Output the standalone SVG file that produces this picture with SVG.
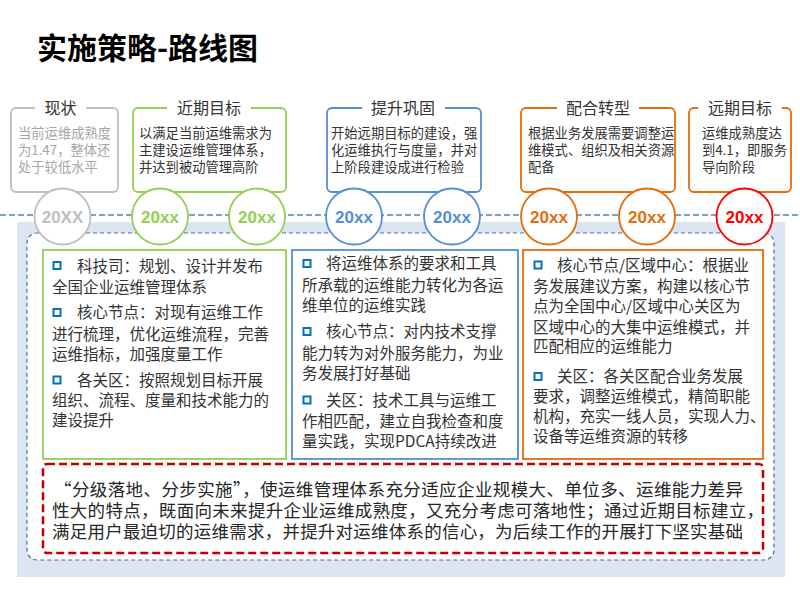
<svg xmlns="http://www.w3.org/2000/svg" width="800" height="600" viewBox="0 0 800 600">
<style>
text{font-family:"Noto Sans CJK SC","Noto Sans",sans-serif;}
.title{font-size:30px;font-weight:700;fill:#000;}
.bt{font-size:16px;fill:#333;text-anchor:middle;}
.tt{font-size:13.3px;fill:#333;}
.tg{fill:#a6a6a6;}
.box{fill:#fff;stroke-width:1.8;}
.gap{fill:#fff;stroke:none;}
.circ{fill:#fff;stroke-width:1.8;}
.yr{font-family:"Liberation Sans",Arial,sans-serif;font-size:17px;font-weight:700;text-anchor:middle;}
.body{font-size:15.5px;fill:#333;}
.bul{fill:#fff;stroke:#0070c0;stroke-width:2;}
.red{font-size:17.5px;fill:#262626;}
</style>
<rect width="800" height="600" fill="#fff"/>
<text class="title" x="37" y="59">实施策略-路线图</text>

<!-- background panel -->
<rect x="17" y="222" width="768" height="355" fill="#dce6f2"/>
<rect x="27" y="233" width="747" height="327" rx="10" fill="#fff" stroke="#4f6f9f" stroke-width="1.2" stroke-dasharray="4,3"/>

<g id="connectors">
<line x1="0" y1="215" x2="800" y2="215" stroke="#4f81bd" stroke-width="1.5" stroke-dasharray="6,3"/>
</g>

<!-- top boxes -->
<g id="box-now">
<rect class="box" x="11" y="108" width="107" height="84" rx="5" stroke="#bfbfbf"/>
<rect class="gap" x="35" y="100" width="51" height="16"/>
<text class="bt" x="60.5" y="114">现状</text>
<text class="tt tg"><tspan x="18" y="138">当前运维成熟度</tspan><tspan x="18" y="155">为1.47，整体还</tspan><tspan x="18" y="172">处于较低水平</tspan></text>
</g>
<g id="box-near">
<rect class="box" x="133" y="108" width="153" height="84" rx="5" stroke="#92d050"/>
<rect class="gap" x="167" y="100" width="84" height="16"/>
<text class="bt" x="209" y="114">近期目标</text>
<text class="tt"><tspan x="139" y="138">以满足当前运维需求为</tspan><tspan x="139" y="155">主建设运维管理体系，</tspan><tspan x="139" y="172">并达到被动管理高阶</tspan></text>
</g>
<g id="box-improve">
<rect class="box" x="327" y="108" width="154" height="84" rx="5" stroke="#558ed5"/>
<rect class="gap" x="362" y="100" width="83" height="16"/>
<text class="bt" x="403" y="114">提升巩固</text>
<text class="tt"><tspan x="331" y="138">开始远期目标的建设，强</tspan><tspan x="331" y="155">化运维执行与度量，并对</tspan><tspan x="331" y="172">上阶段建设成进行检验</tspan></text>
</g>
<g id="box-transform">
<rect class="box" x="521" y="108" width="154" height="84" rx="5" stroke="#e46c0a"/>
<rect class="gap" x="557" y="100" width="82" height="16"/>
<text class="bt" x="598" y="114">配合转型</text>
<text class="tt"><tspan x="528" y="138">根据业务发展需要调整运</tspan><tspan x="528" y="155">维模式、组织及相关资源</tspan><tspan x="528" y="172">配备</tspan></text>
</g>
<g id="box-far">
<rect class="box" x="689" y="108" width="102" height="84" rx="5" stroke="#e46c0a"/>
<rect class="gap" x="698" y="100" width="84" height="16"/>
<text class="bt" x="740" y="114">远期目标</text>
<text class="tt"><tspan x="702" y="138">运维成熟度达</tspan><tspan x="702" y="155">到4.1，即服务</tspan><tspan x="702" y="172">导向阶段</tspan></text>
</g>

<!-- year circles -->
<g id="c1"><circle class="circ" cx="62.5" cy="216.5" r="28" stroke="#bfbfbf"/><text class="yr" x="62.5" y="222.5" fill="#bfbfbf">20XX</text></g>
<g id="c2"><circle class="circ" cx="160" cy="216.5" r="28" stroke="#92d050"/><text class="yr" x="160" y="222.5" fill="#92d050">20xx</text></g>
<g id="c3"><circle class="circ" cx="257" cy="216.5" r="28" stroke="#92d050"/><text class="yr" x="257" y="222.5" fill="#92d050">20xx</text></g>
<g id="c4"><circle class="circ" cx="354" cy="216.5" r="28" stroke="#558ed5"/><text class="yr" x="354" y="222.5" fill="#558ed5">20xx</text></g>
<g id="c5"><circle class="circ" cx="452" cy="216.5" r="28" stroke="#558ed5"/><text class="yr" x="452" y="222.5" fill="#558ed5">20xx</text></g>
<g id="c6"><circle class="circ" cx="549" cy="216.5" r="28" stroke="#e46c0a"/><text class="yr" x="549" y="222.5" fill="#e46c0a">20xx</text></g>
<g id="c7"><circle class="circ" cx="647" cy="216.5" r="28" stroke="#e46c0a"/><text class="yr" x="647" y="222.5" fill="#e46c0a">20xx</text></g>
<g id="c8"><circle class="circ" cx="744.5" cy="216.5" r="28" stroke="#ff0000"/><text class="yr" x="744.5" y="222.5" fill="#ff0000">20xx</text></g>

<!-- detail boxes -->
<g id="detail-green">
<rect x="43" y="250" width="243" height="209" fill="#fff" stroke="#92d050" stroke-width="1.8"/>
<rect class="bul" x="53.5" y="262" width="7" height="7"/>
<rect class="bul" x="53.5" y="309" width="7" height="7"/>
<rect class="bul" x="53.5" y="376.5" width="7" height="7"/>
<text class="body"><tspan x="77" y="271.5">科技司：规划、设计并发布</tspan><tspan x="52" y="292.5">全国企业运维管理体系</tspan><tspan x="77" y="318">核心节点：对现有运维工作</tspan><tspan x="52" y="339.5">进行梳理，优化运维流程，完善</tspan><tspan x="52" y="359.5">运维指标，加强度量工作</tspan><tspan x="77" y="385.5">各关区：按照规划目标开展</tspan><tspan x="52" y="405.5">组织、流程、度量和技术能力的</tspan><tspan x="52" y="425.5">建设提升</tspan></text>
</g>
<g id="detail-blue">
<rect x="292" y="250" width="226" height="209" fill="#fff" stroke="#558ed5" stroke-width="1.8"/>
<rect class="bul" x="303.5" y="260" width="7" height="7"/>
<rect class="bul" x="303.5" y="328" width="7" height="7"/>
<rect class="bul" x="303.5" y="396.5" width="7" height="7"/>
<text class="body"><tspan x="326" y="269">将运维体系的要求和工具</tspan><tspan x="302" y="290.5">所承载的运维能力转化为各运</tspan><tspan x="302" y="310.5">维单位的运维实践</tspan><tspan x="326" y="337">核心节点：对内技术支撑</tspan><tspan x="302" y="358.5">能力转为对外服务能力，为业</tspan><tspan x="302" y="378.5">务发展打好基础</tspan><tspan x="326" y="405.5">关区：技术工具与运维工</tspan><tspan x="302" y="427">作相匹配，建立自我检查和度</tspan><tspan x="302" y="447">量实践，实现PDCA持续改进</tspan></text>
</g>
<g id="detail-orange">
<rect x="523" y="250" width="240" height="209" fill="#fff" stroke="#e46c0a" stroke-width="1.8"/>
<rect class="bul" x="534.5" y="261.5" width="7" height="7"/>
<rect class="bul" x="534.5" y="373" width="7" height="7"/>
<text class="body"><tspan x="557" y="270.5">核心节点/区域中心：根据业</tspan><tspan x="533" y="292">务发展建议方案，构建以核心节</tspan><tspan x="533" y="312">点为全国中心/区域中心关区为</tspan><tspan x="533" y="332.5">区域中心的大集中运维模式，并</tspan><tspan x="533" y="352">匹配相应的运维能力</tspan><tspan x="557" y="382">关区：各关区配合业务发展</tspan><tspan x="533" y="402">要求，调整运维模式，精简职能</tspan><tspan x="533" y="422">机构，充实一线人员，实现人力、</tspan><tspan x="533" y="442">设备等运维资源的转移</tspan></text>
</g>

<g id="summary">
<rect x="43" y="464" width="720" height="89" rx="4" fill="#fff" stroke="#c00000" stroke-width="2.5" stroke-dasharray="8,4"/>
<text class="red"><tspan x="54" y="496" textLength="689" lengthAdjust="spacing">“分级落地、分步实施”，使运维管理体系充分适应企业规模大、单位多、运维能力差异</tspan><tspan x="52" y="516.5" textLength="712" lengthAdjust="spacing">性大的特点，既面向未来提升企业运维成熟度，又充分考虑可落地性；通过近期目标建立，</tspan><tspan x="52" y="537.5" textLength="691" lengthAdjust="spacing">满足用户最迫切的运维需求，并提升对运维体系的信心，为后续工作的开展打下坚实基础</tspan></text>
</g>
</svg>
